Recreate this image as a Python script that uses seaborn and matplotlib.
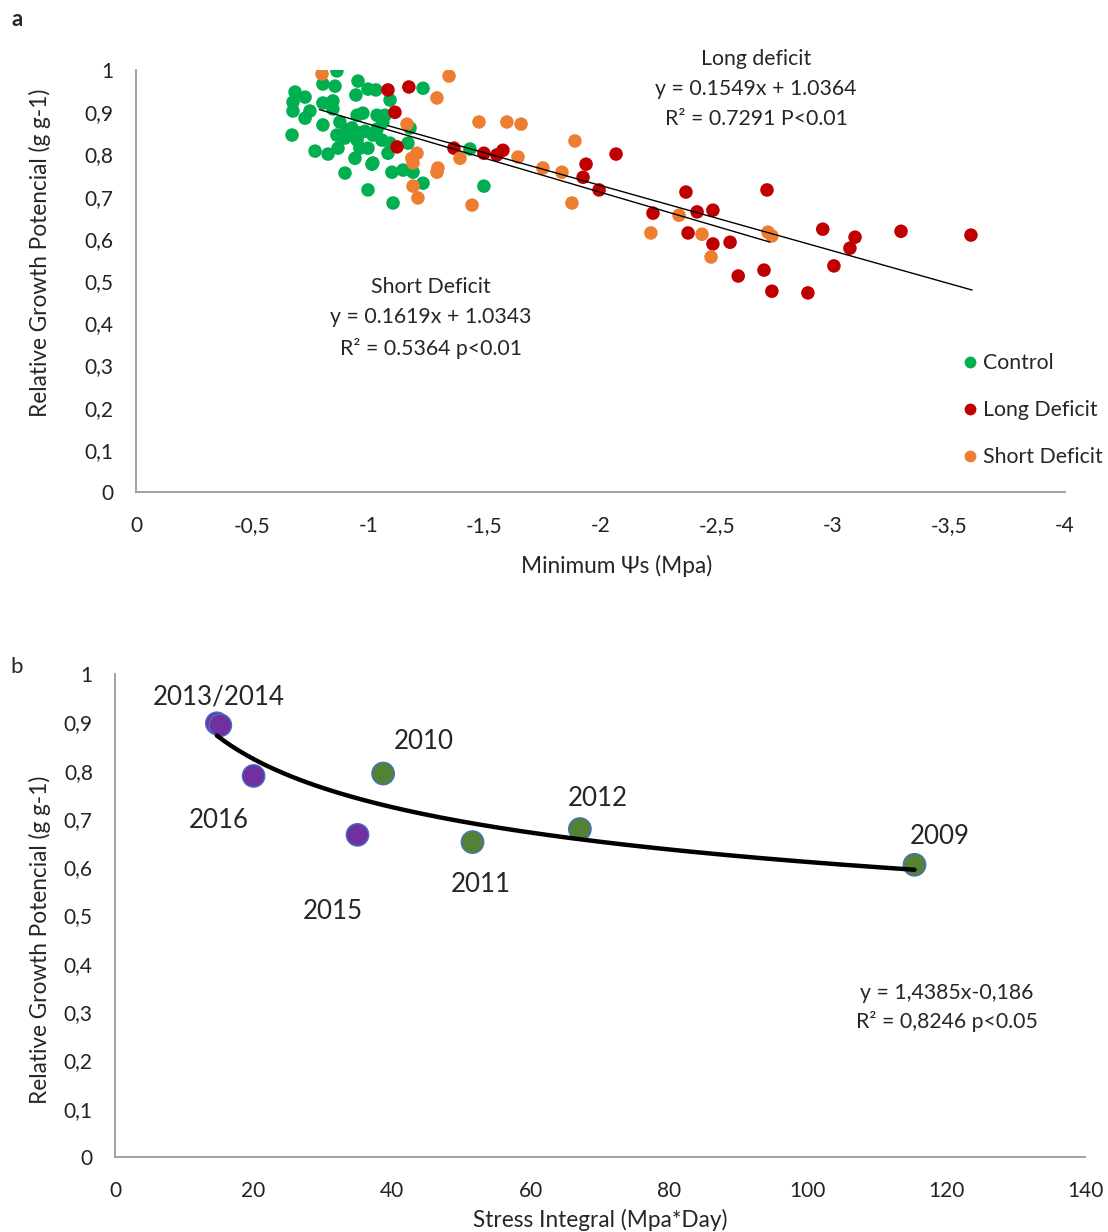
import numpy as np
import pandas as pd
import matplotlib
matplotlib.use("Agg")
import matplotlib.pyplot as plt
import seaborn as sns
from matplotlib.lines import Line2D
from matplotlib.ticker import FuncFormatter

# ---------------- panel a: minimum osmotic potential vs relative growth ----------------
control_psi = [-0.865, -0.805, -0.857, -0.956, -0.685, -0.728, -0.947, -0.999, -1.033,
               -0.676, -0.676, -0.749, -0.728, -0.805, -0.848, -0.848, -0.805, -0.878,
               -0.952, -0.977, -1.038, -1.072, -0.672, -0.930, -0.986, -1.038, -0.865,
               -0.909, -0.900, -0.952, -0.964, -0.999, -1.059, -1.094, -0.771, -0.827,
               -0.870, -0.943, -1.085, -1.171, -1.016, -0.900, -1.102, -1.150, -1.193,
               -1.236, -0.999, -1.107, -1.438, -1.498, -1.236, -1.094, -1.063, -1.180,
               -0.921, -1.020, -0.964, -1.020]
control_rgp = [0.998, 0.967, 0.962, 0.974, 0.948, 0.936, 0.941, 0.955, 0.953,
               0.924, 0.903, 0.903, 0.886, 0.922, 0.927, 0.908, 0.870, 0.877,
               0.893, 0.898, 0.893, 0.893, 0.846, 0.863, 0.855, 0.860, 0.846,
               0.858, 0.839, 0.834, 0.815, 0.815, 0.834, 0.827, 0.808, 0.801,
               0.815, 0.791, 0.803, 0.827, 0.777, 0.756, 0.758, 0.763, 0.758,
               0.732, 0.716, 0.685, 0.813, 0.725, 0.957, 0.929, 0.877, 0.863,
               0.851, 0.846, 0.851, 0.780]

long_psi = [-1.175, -1.085, -1.115, -1.124, -1.369, -1.498, -1.554, -1.580, -1.938,
            -1.925, -1.994, -2.067, -2.226, -2.368, -2.416, -2.484, -2.377, -2.484,
            -2.558, -2.717, -2.593, -2.704, -2.738, -2.893, -2.957, -3.005, -3.074,
            -3.096, -3.294, -3.595]
long_rgp = [0.960, 0.953, 0.900, 0.818, 0.815, 0.803, 0.799, 0.810, 0.777,
            0.746, 0.716, 0.801, 0.661, 0.711, 0.664, 0.668, 0.614, 0.588,
            0.592, 0.716, 0.512, 0.526, 0.476, 0.472, 0.623, 0.536, 0.578,
            0.604, 0.618, 0.609]

short_psi = [-0.801, -1.348, -1.296, -1.167, -1.477, -1.597, -1.658, -1.890, -1.210,
             -1.188, -1.193, -1.300, -1.296, -1.395, -1.645, -1.752, -1.834, -1.193,
             -1.214, -1.447, -1.877, -2.217, -2.338, -2.437, -2.476, -2.721, -2.738]
short_rgp = [0.991, 0.986, 0.934, 0.872, 0.877, 0.877, 0.872, 0.832, 0.803,
             0.791, 0.780, 0.768, 0.758, 0.791, 0.794, 0.768, 0.758, 0.725,
             0.697, 0.680, 0.685, 0.614, 0.656, 0.611, 0.557, 0.616, 0.607]

groups = ["Control", "Long Deficit", "Short Deficit"]
group_colors = {"Control": "#00b050", "Long Deficit": "#c00000", "Short Deficit": "#ed7d31"}

# linear trendlines: (slope, intercept, x start, x end)
long_fit = (0.1549, 1.0364, -1.085, -3.6)
short_fit = (0.1619, 1.0343, -0.79, -2.73)

# ---------------- panel b: stress integral vs relative growth ----------------
years = ["2009", "2010", "2011", "2012", "2013", "2014", "2015", "2016"]
stress_integral = [115.4, 38.7, 51.6, 67.1, 14.7, 15.2, 35.0, 20.0]
season_rgp = [0.605, 0.794, 0.652, 0.679, 0.898, 0.894, 0.667, 0.789]
year_colors = ["#548235"] * 4 + ["#7030a0"] * 4

# power trendline y = a * x^b
power_a, power_b = 1.4385, -0.186

# ---------------- styling ----------------
sns.set_theme(style="white")
plt.rcParams["font.family"] = ["Lato", "DejaVu Sans"]
AXIS_GREY = "#9a9a9a"
TICK_SIZE = 15
LABEL_SIZE = 16.3
NOTE_SIZE = 15.3


def comma_fmt(v, pos):
    v = round(v, 2) + 0.0
    return f"{v:g}".replace(".", ",")


def style_axes(ax):
    for side in ("top", "right"):
        ax.spines[side].set_visible(False)
    for side in ("left", "bottom"):
        ax.spines[side].set_color(AXIS_GREY)
        ax.spines[side].set_linewidth(1.3)
    ax.tick_params(axis="both", length=0, labelsize=TICK_SIZE, colors="#222222")
    ax.tick_params(axis="y", pad=16)
    ax.tick_params(axis="x", pad=17)
    ax.xaxis.set_major_formatter(FuncFormatter(comma_fmt))
    ax.yaxis.set_major_formatter(FuncFormatter(comma_fmt))
    ax.grid(False)


fig = plt.figure(figsize=(11.08, 12.32), dpi=100)

# ---- panel a ----
ax1 = fig.add_axes([0.1227, 0.6006, 0.8385, 0.3425])
df_a = pd.DataFrame({
    "psi": control_psi + long_psi + short_psi,
    "rgp": control_rgp + long_rgp + short_rgp,
    "treatment": (["Control"] * len(control_psi) + ["Long Deficit"] * len(long_psi)
                  + ["Short Deficit"] * len(short_psi)),
})
sns.scatterplot(data=df_a, x="psi", y="rgp", hue="treatment", hue_order=groups,
                palette=group_colors, s=95, edgecolor="none", linewidth=0,
                legend=False, ax=ax1, zorder=2)

for slope, intercept, x0, x1 in (long_fit, short_fit):
    xs = np.array([x0, x1])
    sns.lineplot(x=xs, y=slope * xs + intercept, color="black", linewidth=1.0,
                 ax=ax1, zorder=3)

ax1.set_xlim(0, -4)
ax1.set_ylim(0, 1)
ax1.set_xticks(np.arange(0, -4.01, -0.5))
ax1.set_yticks(np.arange(0, 1.01, 0.1))
style_axes(ax1)
ax1.set_xlabel("Minimum Ψs (Mpa)", fontsize=LABEL_SIZE, va="center")
ax1.xaxis.set_label_coords(0.517, -0.175)
ax1.set_ylabel("Relative Growth Potencial (g g-1)", fontsize=LABEL_SIZE, va="center")
ax1.yaxis.set_label_coords(-0.103, 0.566)

ax1.text(-2.67, 0.955, "Long deficit\ny = 0.1549x + 1.0364\nR² = 0.7291 P<0.01",
         ha="center", va="center", fontsize=NOTE_SIZE, linespacing=1.62)
ax1.text(-1.27, 0.412, "Short Deficit\ny = 0.1619x + 1.0343\nR² = 0.5364 p<0.01",
         ha="center", va="center", fontsize=NOTE_SIZE, linespacing=1.62)

handles = [Line2D([], [], marker="o", linestyle="none", markersize=8.5,
                  markerfacecolor=group_colors[g], markeredgewidth=0) for g in groups]
fig.legend(handles, groups, loc="upper left", bbox_to_anchor=(964 / 1108, 1 - 353 / 1232),
           frameon=False, fontsize=NOTE_SIZE, handlelength=0.6, handletextpad=0.3,
           labelspacing=1.27, borderaxespad=0, borderpad=0)

fig.text(17 / 1108, 1 - 20 / 1232, "a", fontsize=16, fontweight="bold",
         ha="center", va="center")

# ---- panel b ----
ax2 = fig.add_axes([0.1038, 0.0609, 0.8754, 0.3920])
df_b = pd.DataFrame({"year": years, "si": stress_integral, "rgp": season_rgp})
sns.scatterplot(data=df_b, x="si", y="rgp", hue="year", palette=dict(zip(years, year_colors)),
                s=260, edgecolor="#4472c4", linewidth=1.0, legend=False, ax=ax2, zorder=2)

xs = np.linspace(min(stress_integral), max(stress_integral), 200)
sns.lineplot(x=xs, y=power_a * xs ** power_b, color="black", linewidth=3.2,
             ax=ax2, zorder=3)

year_label_pos = {
    "2013/2014": (14.9, 0.952),
    "2010": (44.6, 0.861),
    "2016": (15.0, 0.696),
    "2015": (31.5, 0.509),
    "2011": (52.8, 0.565),
    "2012": (69.7, 0.743),
    "2009": (119.0, 0.663),
}
for label, (lx, ly) in year_label_pos.items():
    ax2.text(lx, ly, label, ha="center", va="center", fontsize=18.6)

ax2.text(120.1, 0.31, "y = 1,4385x-0,186\nR² = 0,8246 p<0.05", ha="center",
         va="center", fontsize=NOTE_SIZE, linespacing=1.5)

ax2.set_xlim(0, 140)
ax2.set_ylim(0, 1)
ax2.set_xticks(np.arange(0, 141, 20))
ax2.set_yticks(np.arange(0, 1.01, 0.1))
style_axes(ax2)
ax2.set_xlabel("Stress Integral (Mpa*Day)", fontsize=LABEL_SIZE, va="center")
ax2.xaxis.set_label_coords(0.5, -0.130)
ax2.set_ylabel("Relative Growth Potencial (g g-1)", fontsize=LABEL_SIZE, va="center")
ax2.yaxis.set_label_coords(-0.0773, 0.449)

fig.text(17 / 1108, 1 - 667 / 1232, "b", fontsize=16, ha="center", va="center")

fig.savefig("out.png", dpi=100, facecolor="white")
